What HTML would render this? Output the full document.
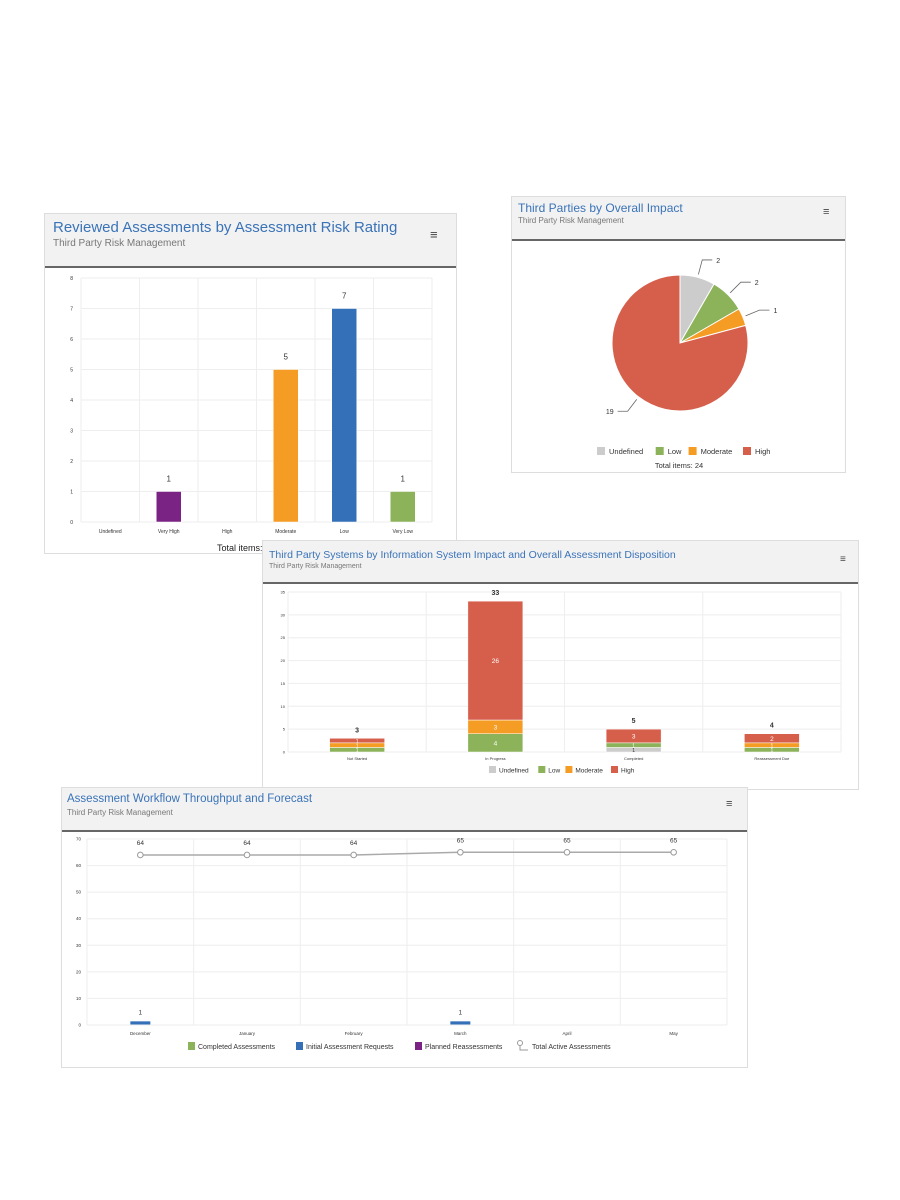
<!DOCTYPE html>
<html><head><meta charset="utf-8">
<style>
body{margin:0;width:900px;height:1200px;background:#fff;position:relative;overflow:hidden;font-family:"Liberation Sans",sans-serif}
.panel{position:absolute;background:#fff;border:1px solid #ddd;box-sizing:border-box}
.hdr{position:absolute;left:0;top:0;right:0;background:#f2f2f2;border-bottom:2px solid #666}
.title{position:absolute;color:#3a73b8;white-space:nowrap}
.sub{position:absolute;color:#777;white-space:nowrap}
.menu{position:absolute;color:#444;font-size:13px}
svg{position:absolute;left:0;top:0}
svg text{font-family:"Liberation Sans",sans-serif}
</style></head><body>

<div class="panel" style="left:44px;top:213px;width:413px;height:341px">
 <div class="hdr" style="height:52px">
  <div class="title" style="left:8px;top:5px;font-size:15px">Reviewed Assessments by Assessment Risk Rating</div>
  <div class="sub" style="left:8px;top:24px;font-size:10px">Third Party Risk Management</div>
  <div class="menu" style="left:385px;top:13px">≡</div>
 </div>
 <svg id="c1" width="413" height="341"></svg>
</div>

<div class="panel" style="left:511px;top:196px;width:335px;height:277px">
 <div class="hdr" style="height:42px">
  <div class="title" style="left:6px;top:4px;font-size:12px">Third Parties by Overall Impact</div>
  <div class="sub" style="left:6px;top:19px;font-size:8px">Third Party Risk Management</div>
  <div class="menu" style="left:311px;top:9px;font-size:11px">≡</div>
 </div>
 <svg id="c2" width="335" height="277"></svg>
</div>

<div class="panel" style="left:262px;top:540px;width:597px;height:250px">
 <div class="hdr" style="height:41px">
  <div class="title" style="left:6px;top:8px;font-size:10.5px">Third Party Systems by Information System Impact and Overall Assessment Disposition</div>
  <div class="sub" style="left:6px;top:22px;font-size:7px">Third Party Risk Management</div>
  <div class="menu" style="left:577px;top:13px;font-size:10px">≡</div>
 </div>
 <svg id="c3" width="597" height="250"></svg>
</div>

<div class="panel" style="left:61px;top:787px;width:687px;height:281px">
 <div class="hdr" style="height:42px">
  <div class="title" style="left:5px;top:5px;font-size:11.5px">Assessment Workflow Throughput and Forecast</div>
  <div class="sub" style="left:5px;top:20px;font-size:8px">Third Party Risk Management</div>
  <div class="menu" style="left:664px;top:10px;font-size:11px">≡</div>
 </div>
 <svg id="c4" width="687" height="281"></svg>
</div>

<script>
// ---- chart 1 data
const c1Categories=["Undefined","Very High","High","Moderate","Low","Very Low"];
const c1Values=[0,1,0,5,7,1];
const c1Colors=["#ccc","#7b2384","#d65f4c","#f59c24","#3470b8","#8cb25a"];
const c1Ticks=[0,1,2,3,4,5,6,7,8];
// ---- chart 2 data
const c2Labels=["Undefined","Low","Moderate","High"];
const c2Values=[2,2,1,19];
const c2Colors=["#cccccc","#8cb25a","#f59c24","#d65f4c"];
// ---- chart 3 data
const c3Categories=["Not Started","In Progress","Completed","Reassessment Due"];
const c3Series=["Undefined","Low","Moderate","High"];
const c3Undefined=[0,0,1,0];
const c3Low=[1,4,1,1];
const c3Moderate=[1,3,0,1];
const c3High=[1,26,3,2];
const c3Colors=["#cccccc","#8cb25a","#f59c24","#d65f4c"];
const c3Ticks=[0,5,10,15,20,25,30,35];
// ---- chart 4 data
const c4Categories=["December","January","February","March","April","May"];
const c4Completed=[0,0,0,0,0,0];
const c4Initial=[1,0,0,1,0,0];
const c4Planned=[0,0,0,0,0,0];
const c4Total=[64,64,64,65,65,65];
const c4Ticks=[0,10,20,30,40,50,60,70];

const NS="http://www.w3.org/2000/svg";
function mk(svg,tag,attrs,txt){const e=document.createElementNS(NS,tag);for(const k in attrs)e.setAttribute(k,attrs[k]);if(txt!==undefined)e.textContent=txt;svg.appendChild(e);return e;}

// chart 1
(function(){
 const s=document.getElementById('c1');
 const x0=36,x1=387,y0=308,y1=64,max=8;
 const y=v=>y0-(v/max)*(y0-y1);
 const bw=(x1-x0)/c1Categories.length;
 c1Ticks.forEach(t=>{
  const g=mk(s,'line',{x1:x0,x2:x1,y1:y(t),y2:y(t),stroke:'#eee'});
  
  const l=mk(s,'text',{x:x0-8,y:y(t)+2,'font-size':5,'text-anchor':'end',fill:'#333'},t);
  
 });
 for(let i=0;i<=c1Categories.length;i++){const g=mk(s,'line',{x1:x0+i*bw,x2:x0+i*bw,y1:y1,y2:y0,stroke:'#eee'});}
 c1Categories.forEach((c,i)=>{
  const cx=x0+bw*(i+0.5);
  const l=mk(s,'text',{x:cx,y:y0+11,'font-size':5,'text-anchor':'middle',fill:'#333'},c);
  
  const v=c1Values[i];
  if(v>0){
   const b=mk(s,'rect',{x:cx-12.5,y:y(v),width:25,height:y0-y(v),fill:c1Colors[i],stroke:'#fff','stroke-width':0.5});
   
   const t=mk(s,'text',{x:cx,y:y(v)-10,'font-size':8,'text-anchor':'middle',fill:'#333'},v);
   
  }
 });
 const tt=mk(s,'text',{x:172,y:337,'font-size':9,fill:'#222'},'Total items: 14');
 
})();

// chart 2
(function(){
 const s=document.getElementById('c2');
 const cx=168,cy=146,r=68;
 const tot=c2Values.reduce((a,b)=>a+b,0);
 let a=0;
 c2Values.forEach((v,i)=>{
  const a0=a,a1=a+v/tot*2*Math.PI;a=a1;
  const p=(ang,rr)=>[cx+rr*Math.sin(ang),cy-rr*Math.cos(ang)];
  const [sx,sy]=p(a0,r),[ex,ey]=p(a1,r);
  const large=(a1-a0)>Math.PI?1:0;
  const sl=mk(s,'path',{d:`M${cx},${cy}L${sx},${sy}A${r},${r} 0 ${large} 1 ${ex},${ey}Z`,fill:c2Colors[i],stroke:'#fff','stroke-width':1});
  
  const m=(a0+a1)/2;
  const [lx,ly]=p(m,r+3),[mx,my]=p(m,r+18);
  const dir=Math.sin(m)>=0?1:-1;
  const ln=mk(s,'path',{d:`M${lx},${ly}L${mx},${my}L${mx+dir*10},${my}`,fill:'none',stroke:'#666','stroke-width':0.8});
  
  const t=mk(s,'text',{x:mx+dir*14,y:my+3,'font-size':7,'text-anchor':dir>0?'start':'end',fill:'#333'},v);
  
 });
 let lx=85;
 c2Labels.forEach((l,i)=>{
  const g=mk(s,'rect',{x:lx,y:250,width:8,height:8,fill:c2Colors[i]});
  
  const t=mk(s,'text',{x:lx+12,y:257,'font-size':7.5,fill:'#333'},l);
  
  lx+=12+l.length*4.3+8;
 });
 const tt=mk(s,'text',{x:167,y:271,'font-size':7.5,'text-anchor':'middle',fill:'#333'},'Total items: '+tot);
 
})();

// chart 3
(function(){
 const s=document.getElementById('c3');
 const x0=25,x1=578,y0=211,y1=51,max=35;
 const y=v=>y0-(v/max)*(y0-y1);
 const bw=(x1-x0)/c3Categories.length;
 c3Ticks.forEach(t=>{
  const g=mk(s,'line',{x1:x0,x2:x1,y1:y(t),y2:y(t),stroke:'#eee'});
  const l=mk(s,'text',{x:x0-3,y:y(t)+1.5,'font-size':4,'text-anchor':'end',fill:'#333'},t);
 });
 for(let i=0;i<=4;i++){const g=mk(s,'line',{x1:x0+i*bw,x2:x0+i*bw,y1:y1,y2:y0,stroke:'#eee'});}
 const series=[c3Undefined,c3Low,c3Moderate,c3High];
 c3Categories.forEach((c,i)=>{
  const cx=x0+bw*(i+0.5);let acc=0;
  series.forEach((sv,k)=>{
   const v=sv[i];if(!v)return;
   const b=mk(s,'rect',{x:cx-27.5,y:y(acc+v),width:55,height:y(acc)-y(acc+v),fill:c3Colors[k],stroke:'#fff','stroke-width':0.5});
   
   const t=mk(s,'text',{x:cx,y:(y(acc)+y(acc+v))/2+2.5,'font-size':v>1?6.5:5,'text-anchor':'middle',fill:k==0?'#333':'#fff'},v);
   
   acc+=v;
  });
  const t=mk(s,'text',{x:cx,y:y(acc)-6,'font-size':7,'font-weight':'bold','text-anchor':'middle',fill:'#333'},acc);
  
  const l=mk(s,'text',{x:cx,y:y0+8,'font-size':4,'text-anchor':'middle',fill:'#333'},c);
  
 });
 let lx=226;
 c3Series.forEach((l,i)=>{
  const g=mk(s,'rect',{x:lx,y:225,width:7,height:7,fill:c3Colors[i]});
  const t=mk(s,'text',{x:lx+10,y:231.5,'font-size':6.5,fill:'#333'},l);
  lx+=10+l.length*3.7+6;
 });
})();

// chart 4
(function(){
 const s=document.getElementById('c4');
 const x0=25,x1=665,y0=237,y1=51,max=70;
 const y=v=>y0-(v/max)*(y0-y1);
 const bw=(x1-x0)/c4Categories.length;
 c4Ticks.forEach(t=>{
  const g=mk(s,'line',{x1:x0,x2:x1,y1:y(t),y2:y(t),stroke:'#eee'});
  const l=mk(s,'text',{x:x0-6,y:y(t)+1.5,'font-size':4.5,'text-anchor':'end',fill:'#333'},t);
 });
 for(let i=0;i<=6;i++){const g=mk(s,'line',{x1:x0+i*bw,x2:x0+i*bw,y1:y1,y2:y0,stroke:'#eee'});}
 const cxs=c4Categories.map((c,i)=>x0+bw*(i+0.5));
 c4Categories.forEach((c,i)=>{
  const l=mk(s,'text',{x:cxs[i],y:y0+10,'font-size':4.5,'text-anchor':'middle',fill:'#333'},c);
  [[c4Completed,'#8cb25a','completed'],[c4Initial,'#3470b8','initial-requests'],[c4Planned,'#7b2384','planned']].forEach(([arr,col,nm])=>{
   const v=arr[i];if(!v)return;
   const b=mk(s,'rect',{x:cxs[i]-10,y:y(v)-1,width:20,height:y0-y(v)+0.5,fill:col});
   
   const t=mk(s,'text',{x:cxs[i],y:y(v)-8,'font-size':6.5,'text-anchor':'middle',fill:'#333'},v);
   
  });
 });
 const ln=mk(s,'polyline',{points:c4Total.map((v,i)=>cxs[i]+','+y(v)).join(' '),fill:'none',stroke:'#aaa','stroke-width':1.5});
 
 c4Total.forEach((v,i)=>{
  const p=mk(s,'circle',{cx:cxs[i],cy:y(v),r:2.8,fill:'#fff',stroke:'#999','stroke-width':1});
  
  const t=mk(s,'text',{x:cxs[i],y:y(v)-10,'font-size':6.5,'text-anchor':'middle',fill:'#333'},v);
  
 });
 const items=[["Completed Assessments","#8cb25a",127],["Initial Assessment Requests","#3470b8",235],["Planned Reassessments","#7b2384",354]];
 items.forEach(([l,c,x])=>{
  const g=mk(s,'rect',{x:x-1,y:254,width:7,height:8,fill:c});
  const t=mk(s,'text',{x:x+9,y:261,'font-size':7,fill:'#333'},l);
 });
 const lc=mk(s,'circle',{cx:458,cy:255,r:2.5,fill:'#fff',stroke:'#999'});
 const ll=mk(s,'path',{d:'M458,258V262H466',fill:'none',stroke:'#999'});
 const t=mk(s,'text',{x:470,y:261,'font-size':7,fill:'#333'},'Total Active Assessments');
})();
</script>
</body></html>
